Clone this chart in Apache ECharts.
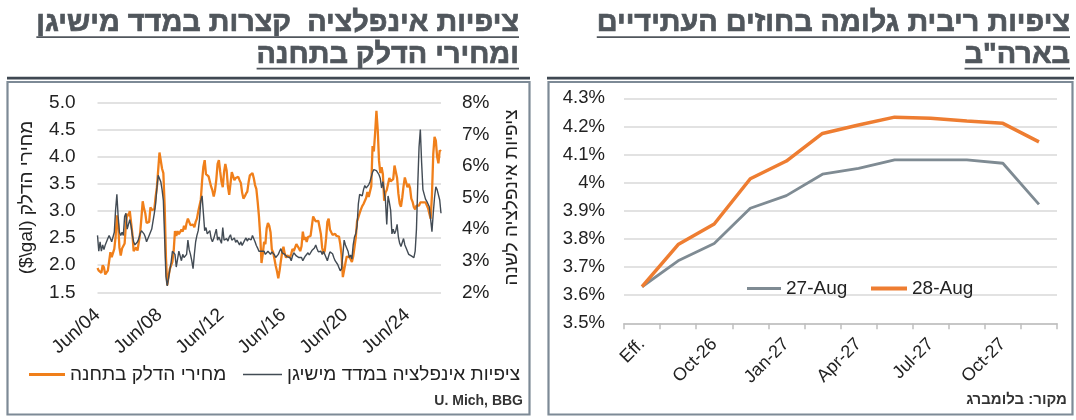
<!DOCTYPE html>
<html lang="he">
<head>
<meta charset="utf-8">
<script src="https://cdn.jsdelivr.net/npm/echarts@6/dist/echarts.min.js"></script>
<style>
html,body{margin:0;padding:0;background:#fff;}
#chart{width:1076px;height:420px;}
</style>
</head>
<body>
<div id="chart"></div>
<script>
// ---------- DATA ----------
// Left panel: monthly, Jun 2004 .. Aug 2026
const firstYear = 2004, firstMonth = 5; // June
const leftTickLabels = ['Jun/04','Jun/08','Jun/12','Jun/16','Jun/20','Jun/24'];
// retail gasoline price ($/gal), left axis
const gasPrice = [
  1.95,1.90,1.87,1.86,2.00,1.96,1.83,                          // 2004 Jun-Dec
  1.80,1.90,2.07,2.24,2.15,2.17,2.30,2.52,2.92,2.75,2.32,2.18, // 2005
  2.31,2.30,2.40,2.75,2.95,2.91,3.00,2.97,2.58,2.26,2.23,2.33, // 2006
  2.27,2.28,2.59,2.87,3.18,3.05,2.96,2.78,2.79,2.80,3.07,3.02, // 2007
  3.05,3.03,3.26,3.44,3.76,4.08,4.10,3.78,3.70,3.10,2.15,1.63, // 2008
  1.79,1.93,1.95,2.06,2.27,2.63,2.54,2.63,2.57,2.56,2.66,2.62, // 2009
  2.73,2.66,2.78,2.86,2.87,2.74,2.74,2.75,2.70,2.80,2.86,2.99, // 2010
  3.10,3.21,3.56,3.82,3.94,3.68,3.65,3.64,3.61,3.45,3.38,3.27, // 2011
  3.38,3.58,3.87,3.94,3.73,3.54,3.44,3.72,3.87,3.75,3.45,3.30, // 2012
  3.31,3.72,3.71,3.57,3.61,3.63,3.63,3.57,3.52,3.34,3.23,3.27, // 2013
  3.32,3.36,3.53,3.66,3.67,3.70,3.61,3.48,3.41,3.18,2.91,2.55, // 2014
  2.04,2.21,2.43,2.39,2.68,2.78,2.73,2.61,2.29,2.24,2.12,1.99, // 2015
  1.89,1.76,1.90,2.08,2.24,2.34,2.21,2.14,2.18,2.20,2.14,2.21, // 2016
  2.30,2.26,2.28,2.39,2.35,2.31,2.26,2.35,2.62,2.47,2.52,2.43, // 2017
  2.52,2.55,2.54,2.72,2.90,2.85,2.81,2.82,2.82,2.83,2.57,2.32, // 2018
  2.21,2.27,2.49,2.80,2.86,2.66,2.67,2.56,2.54,2.58,2.54,2.52, // 2019
  2.53,2.39,2.19,1.78,1.81,2.04,2.16,2.15,2.15,2.11,2.06,2.16, // 2020
  2.33,2.51,2.81,2.81,2.96,3.03,3.09,3.13,3.11,3.24,3.35,3.26, // 2021
  3.28,3.46,4.20,4.10,4.45,4.85,4.50,3.93,3.70,3.81,3.68,3.19, // 2022
  3.34,3.39,3.41,3.61,3.55,3.57,3.59,3.84,3.84,3.61,3.32,3.14, // 2023
  3.08,3.25,3.46,3.62,3.59,3.44,3.50,3.43,3.23,3.17,3.07,3.03, // 2024
  3.10,3.13,3.10,3.16,3.15,3.16,3.15,3.16,3.14,3.05,2.95,2.86, // 2025
  3.30,4.05,4.37,4.30,4.00,3.88,4.12,4.10                      // 2026 Jan-Aug
];
// Michigan 1-year inflation expectations (%), right axis
const michiganExp = [
  3.8,3.3,3.6,3.3,3.5,3.35,3.5,                                // 2004 Jun-Dec
  3.45,3.7,3.8,3.7,3.6,3.75,3.9,4.6,5.1,4.4,3.9,3.8,           // 2005
  3.9,3.8,4.4,4.5,4.0,3.95,4.3,4.1,3.8,3.6,3.5,3.55,           // 2006
  3.6,3.7,3.85,3.95,3.9,3.85,3.75,3.6,3.6,3.8,3.9,4.0,         // 2007
  4.25,4.5,4.8,5.3,5.7,5.7,5.5,5.25,4.9,3.7,2.5,2.2,           // 2008
  2.45,2.7,2.95,3.3,3.25,3.2,2.8,2.75,3.3,3.25,3.0,3.2,        // 2009
  3.1,3.1,3.2,3.65,3.35,3.2,3.0,2.75,3.2,3.6,3.8,3.95,         // 2010
  4.3,4.9,5.05,4.5,3.95,4.05,3.85,3.85,3.95,3.7,3.6,3.7,       // 2011
  3.85,4.0,3.65,3.75,3.7,3.55,4.05,3.65,3.7,3.7,3.62,3.75,     // 2012
  3.82,3.65,3.7,3.72,3.58,3.65,3.6,3.5,3.6,3.48,3.5,3.65,      // 2013
  3.72,3.62,3.7,3.72,3.66,3.8,3.78,3.6,3.48,3.4,3.3,3.25,      // 2014
  3.3,3.35,3.3,3.2,3.25,3.3,3.25,3.2,3.28,3.25,3.19,3.1,       // 2015
  3.12,3.2,3.3,3.38,3.25,3.2,3.2,3.25,3.12,3.15,3.1,3.0,       // 2016
  3.15,3.25,3.3,3.15,3.2,3.1,3.15,3.1,3.0,3.08,3.15,3.2,       // 2017
  3.25,3.18,3.22,3.32,3.3,3.4,3.5,3.38,3.28,3.25,3.3,3.2,      // 2018
  3.3,3.25,3.1,3.0,3.15,3.28,3.27,3.22,3.1,3.0,2.95,2.88,      // 2019
  2.78,2.68,2.75,3.2,3.65,3.5,3.5,3.3,3.1,3.18,3.05,3.5,       // 2020
  3.75,3.85,4.1,4.8,5.1,5.12,5.05,5.25,5.38,5.3,5.3,5.4,       // 2021
  5.5,5.65,5.8,5.88,5.92,5.85,5.8,5.72,5.6,5.3,5.5,5.2,        // 2022
  4.9,4.15,5.05,4.85,4.6,3.85,4.0,3.85,3.95,4.15,3.75,3.55,    // 2023
  3.45,3.4,3.7,3.5,3.4,3.3,3.2,3.25,3.15,3.13,3.1,3.3,         // 2024
  4.0,5.4,6.6,7.15,6.1,5.25,5.1,4.95,4.88,4.9,4.7,4.3,         // 2025
  3.92,4.5,5.0,5.34,5.25,5.2,4.92,4.5                          // 2026 Jan-Aug
];
// Right panel: implied fed funds rate by meeting
const curveCats = ['Eff.','Sep-26','Oct-26','Dec-26','Jan-27','Mar-27','Apr-27','Jun-27','Jul-27','Sep-27','Oct-27','Dec-27'];
const rateAug27 = [3.630,3.722,3.784,3.909,3.954,4.030,4.051,4.081,4.081,4.081,4.069,3.923];
const rateAug28 = [3.630,3.780,3.853,4.014,4.077,4.175,4.205,4.233,4.229,4.219,4.211,4.145];

// ---------- TEXT ----------
const leftTitle = ['ציפיות אינפלציה  קצרות במדד מישיגן', 'ומחירי הדלק בתחנה'];
const rightTitle = ['ציפיות ריבית גלומה בחוזים העתידיים', 'בארה"ב'];
const gasName = 'מחירי הדלק בתחנה';
const michName = 'ציפיות אינפלציה במדד מישיגן';
const leftAxisName = '($\\gal) מחירי הדלק';
const rightAxisName = 'ציפיות אינפלציה לשנה';
const leftSource = 'U. Mich, BBG';
const rightSource = 'מקור: בלומברג';

// ---------- LAYOUT ----------
const FONT = '"Liberation Sans", Arial, "DejaVu Sans", sans-serif';
const MONTHS = ['Jan','Feb','Mar','Apr','May','Jun','Jul','Aug','Sep','Oct','Nov','Dec'];
const leftCats = gasPrice.map((_, i) => {
  const k = firstMonth + i;
  return MONTHS[k % 12] + '/' + String(firstYear + Math.floor(k / 12)).slice(2);
});

const ctx = document.createElement('canvas').getContext('2d');
function textW(t, font) { ctx.font = font; return ctx.measureText(t).width; }
const tf100 = 'bold 100px ' + FONT;
const titleSize = 100 * (474 + 482) / (textW(leftTitle[0], tf100) + textW(rightTitle[0], tf100));
const tFont = 'bold ' + titleSize.toFixed(2) + 'px ' + FONT;
const titleColor = '#50565c';

const graphics = [];
function addTitle(lines, right) {
  const mids = [23, 55], uls = [36.2, 67.8];
  lines.forEach((t, k) => {
    graphics.push({type: 'text', silent: true, style: {text: t, x: right, y: mids[k], align: 'right', verticalAlign: 'middle', font: tFont, fill: titleColor, stroke: titleColor, lineWidth: 0.7}});
    const w = textW(t, tFont);
    graphics.push({type: 'rect', silent: true, shape: {x: right - w, y: uls[k], width: w, height: 1.8}, style: {fill: titleColor}});
  });
}
addTitle(leftTitle, 519);
addTitle(rightTitle, 1070);
// separators and panel boxes
graphics.push({type: 'rect', silent: true, shape: {x: 7, y: 76.8, width: 523, height: 2.8}, style: {fill: '#3f4852'}});
graphics.push({type: 'rect', silent: true, shape: {x: 547, y: 76.8, width: 527, height: 2.8}, style: {fill: '#3f4852'}});
graphics.push({type: 'rect', silent: true, shape: {x: 7.5, y: 82, width: 522, height: 332.5}, style: {fill: 'none', stroke: '#7d8a96', lineWidth: 2.2}});
graphics.push({type: 'rect', silent: true, shape: {x: 548.5, y: 82, width: 524, height: 332.5}, style: {fill: 'none', stroke: '#7d8a96', lineWidth: 2.2}});
// sources
graphics.push({type: 'text', silent: true, style: {text: leftSource, x: 523, y: 401, align: 'right', verticalAlign: 'middle', font: 'bold 14px ' + FONT, fill: '#333'}});
graphics.push({type: 'text', silent: true, style: {text: rightSource, x: 1067, y: 400, align: 'right', verticalAlign: 'middle', font: 'bold 15px ' + FONT, fill: '#333'}});

const labelColor = '#222';
const gridColor = '#d9d9d9';

function legendAt(name, left, top, w, h) {
  return {data: [name], left: left, top: top, padding: 0, itemWidth: w, itemHeight: h, icon: 'rect',
    selectedMode: false, textStyle: {fontSize: 19, color: labelColor, fontFamily: FONT}};
}

const option = {
  animation: false,
  textStyle: {fontFamily: FONT},
  graphic: graphics,
  legend: [
    legendAt(gasName, 29, 365, 36, 3),
    legendAt(michName, 243, 365, 39, 1.6),
    legendAt('27-Aug', 747, 279, 34, 3),
    legendAt('28-Aug', 871, 279, 36, 4)
  ],
  grid: [
    {left: 97.5, top: 102.7, width: 343.5, height: 189.6},
    {left: 624, top: 98.3, width: 433, height: 225}
  ],
  xAxis: [
    {gridIndex: 0, type: 'category', data: leftCats, boundaryGap: false,
     axisLine: {show: false}, axisTick: {show: false}, splitLine: {show: false},
     axisLabel: {interval: (i) => i % 48 === 0, formatter: (v) => leftTickLabels.indexOf(v) >= 0 ? v : '',
       rotate: 42, margin: 20, fontSize: 19, color: labelColor}},
    {gridIndex: 1, type: 'category', data: curveCats, boundaryGap: true,
     axisLine: {lineStyle: {color: '#bfbfbf', width: 1.5}},
     axisTick: {show: true, interval: 0, length: 6, lineStyle: {color: '#bfbfbf', width: 1.5}},
     axisLabel: {interval: 1, rotate: 45, margin: 18, fontSize: 18, color: labelColor}}
  ],
  yAxis: [
    {gridIndex: 0, type: 'value', min: 1.5, max: 5, interval: 0.5,
     axisLine: {show: false}, axisTick: {show: false},
     axisLabel: {formatter: (v) => v.toFixed(1), margin: 22, fontSize: 19, color: labelColor},
     splitLine: {lineStyle: {color: gridColor, width: 1.5}},
     name: leftAxisName, nameLocation: 'middle', nameRotate: 90, nameGap: 61,
     nameTextStyle: {fontSize: 19, color: labelColor}},
    {gridIndex: 0, type: 'value', position: 'right', min: 2, max: 8, interval: 1,
     axisLine: {show: false}, axisTick: {show: false}, splitLine: {show: false},
     axisLabel: {formatter: (v) => v + '%', margin: 21, fontSize: 19, color: labelColor},
     name: rightAxisName, nameLocation: 'middle', nameRotate: 90, nameGap: 61,
     nameTextStyle: {fontSize: 19, color: labelColor}},
    {gridIndex: 1, type: 'value', min: 3.5, max: 4.3, interval: 0.1,
     axisLine: {show: false}, axisTick: {show: false},
     axisLabel: {formatter: (v) => (+v.toFixed(1)) + '%', margin: 19, fontSize: 18.5, color: labelColor},
     splitLine: {lineStyle: {color: gridColor, width: 1.5}}}
  ],
  series: [
    {name: gasName, type: 'line', xAxisIndex: 0, yAxisIndex: 0, data: gasPrice, showSymbol: false, silent: true,
     lineStyle: {color: '#f07f1a', width: 2.3}, itemStyle: {color: '#f07f1a'}, z: 2},
    {name: michName, type: 'line', xAxisIndex: 0, yAxisIndex: 1, data: michiganExp, showSymbol: false, silent: true,
     lineStyle: {color: '#424b54', width: 1.4}, itemStyle: {color: '#424b54'}, z: 3},
    {name: '27-Aug', type: 'line', xAxisIndex: 1, yAxisIndex: 2, data: rateAug27, showSymbol: false, silent: true,
     lineStyle: {color: '#7f8b93', width: 2.8}, itemStyle: {color: '#7f8b93'}, z: 2},
    {name: '28-Aug', type: 'line', xAxisIndex: 1, yAxisIndex: 2, data: rateAug28, showSymbol: false, silent: true,
     lineStyle: {color: '#ee7d31', width: 3.5}, itemStyle: {color: '#ee7d31'}, z: 3}
  ]
};
const chart = echarts.init(document.getElementById('chart'), null, {renderer: 'canvas'});
chart.setOption(option);
</script>
</body>
</html>
